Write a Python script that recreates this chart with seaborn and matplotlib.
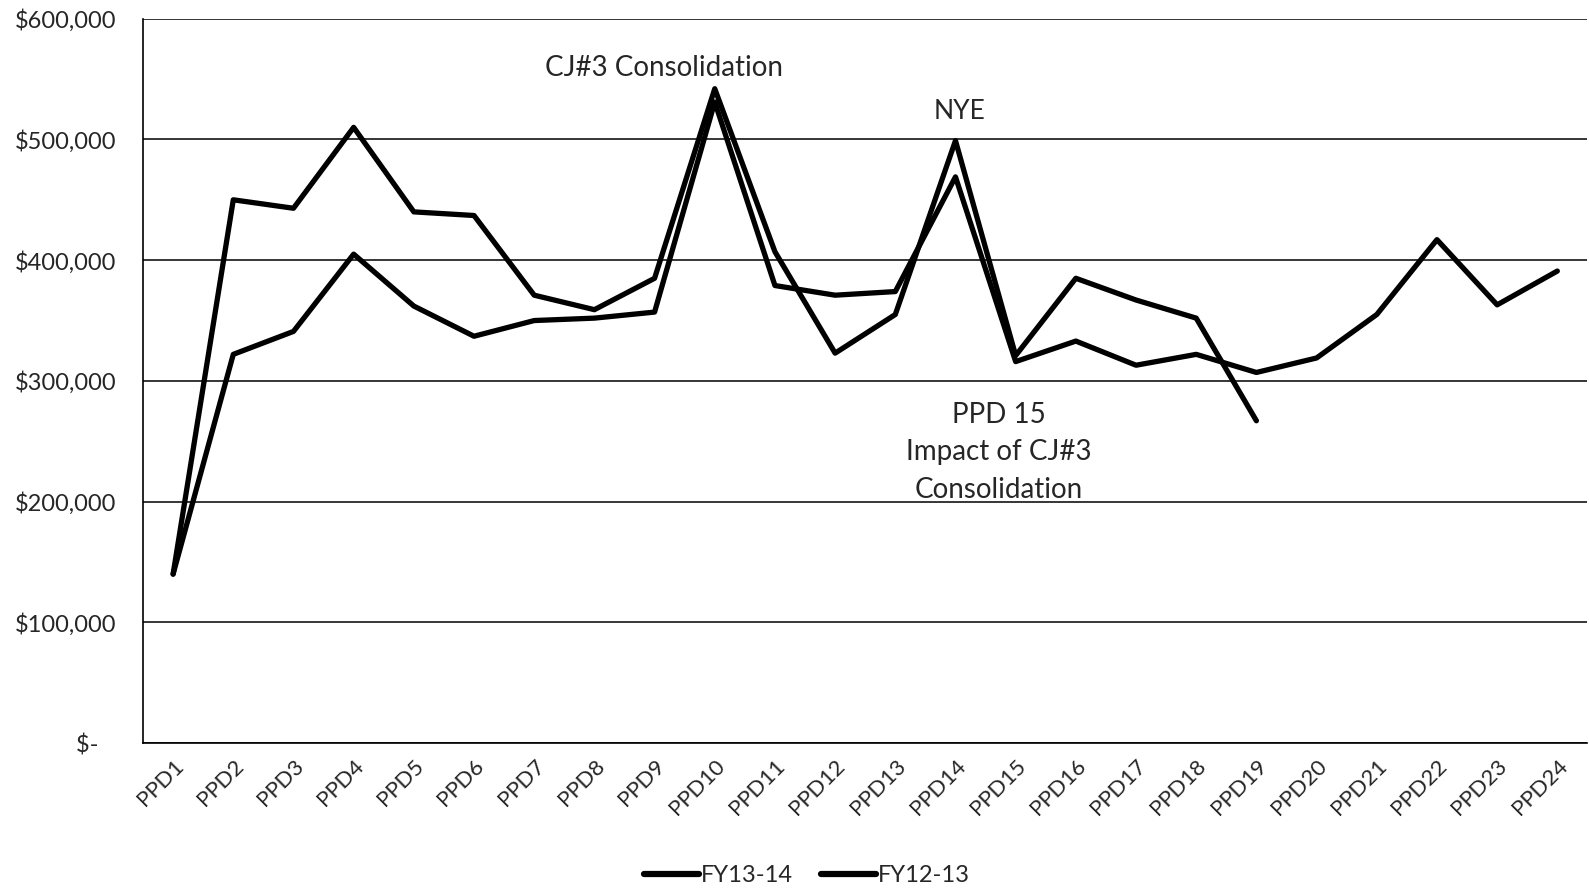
import numpy as np
import pandas as pd
import seaborn as sns
import matplotlib.pyplot as plt
from matplotlib.lines import Line2D

# data
periods = ["PPD" + str(i) for i in range(1, 25)]
fy1314 = [140000, 450000, 443000, 510000, 440000, 437000, 371000, 359000, 385000,
          542000, 407000, 323000, 355000, 499000, 321000, 385000, 367000, 352000, 267000]
fy1213 = [140000, 322000, 341000, 405000, 362000, 337000, 350000, 352000, 357000,
          531000, 379000, 371000, 374000, 469000, 316000, 333000, 313000, 322000,
          307000, 319000, 355000, 417000, 363000, 391000]
yticks = [0, 100000, 200000, 300000, 400000, 500000, 600000]
ytick_labels = ["$-   ", "$100,000", "$200,000", "$300,000", "$400,000", "$500,000", "$600,000"]

df = pd.concat([
    pd.DataFrame({"period": periods[:len(fy1314)], "x": range(len(fy1314)), "cost": fy1314, "series": "FY13-14"}),
    pd.DataFrame({"period": periods, "x": range(len(fy1213)), "cost": fy1213, "series": "FY12-13"}),
])

sns.set_style("white")
plt.rcParams['font.family'] = ['Lato', 'DejaVu Sans']

fig = plt.figure(figsize=(15.89, 8.90), dpi=100)
ax = fig.add_axes([0.09, 0.165, 0.909, 0.814])

sns.lineplot(data=df, x="x", y="cost", hue="series", palette=["black", "black"],
             linewidth=3.8, ax=ax, legend=False, sort=False)

ax.set_xlim(-0.5, 23.5)
ax.set_ylim(0, 600000)
ax.set_yticks(yticks)
ax.set_yticklabels(ytick_labels, fontsize=17)
ax.set_xticks(range(24))
ax.set_xticklabels(periods, rotation=45, ha="right", rotation_mode="anchor", fontsize=16)
ax.set_xticks(np.arange(-0.5, 24, 1), minor=True)
ax.tick_params(axis="x", which="major", length=0, pad=9)
ax.tick_params(axis="x", which="minor", length=9, width=1, color="black", direction="out")
ax.tick_params(axis="y", length=6, width=1, color="black", direction="out", pad=13)
ax.set_xlabel("")
ax.set_ylabel("")

ax.grid(axis="y", color="black", linewidth=1.1)
ax.set_axisbelow(True)
for s in ["top", "right"]:
    ax.spines[s].set_visible(False)
for s in ["left", "bottom"]:
    ax.spines[s].set_color("black")
    ax.spines[s].set_linewidth(1.2)

ax.text(8.15, 559000, "CJ#3 Consolidation", fontsize=20, ha="center", va="center")
ax.text(13.06, 523000, "NYE", fontsize=19, ha="center", va="center")
ax.text(13.72, 241000, "PPD 15\nImpact of CJ#3\nConsolidation", fontsize=20,
        ha="center", va="center", linespacing=1.55)

handles = [Line2D([0], [0], color="black", lw=4.5), Line2D([0], [0], color="black", lw=4.5)]
fig.legend(handles, ["FY13-14", "FY12-13"], loc="center", bbox_to_anchor=(0.508, 0.016),
           ncol=2, frameon=False, fontsize=17, handlelength=2.3, handletextpad=0.1,
           columnspacing=1.2)

fig.savefig("out.png", dpi=100)
